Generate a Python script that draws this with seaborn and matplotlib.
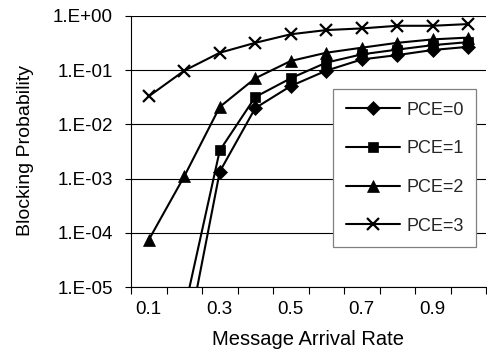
import numpy as np
import pandas as pd
import matplotlib
matplotlib.use("Agg")
import matplotlib.pyplot as plt
import seaborn as sns
from matplotlib.ticker import FixedLocator, FuncFormatter, NullLocator

rates = ["0.1", "0.2", "0.3", "0.4", "0.5", "0.6", "0.7", "0.8", "0.9", "1.0"]
pce0 = [np.nan, 5.8e-7, 1.34e-3, 0.020, 0.051, 0.098, 0.158, 0.19, 0.236, 0.27]
pce1 = [np.nan, 3.6e-6, 3.3e-3, 0.032, 0.071, 0.138, 0.196, 0.24, 0.29, 0.33]
pce2 = [7.4e-5, 1.1e-3, 0.021, 0.071, 0.148, 0.21, 0.26, 0.32, 0.37, 0.40]
pce3 = [0.033, 0.098, 0.21, 0.32, 0.46, 0.55, 0.59, 0.66, 0.66, 0.71]
series_names = ["PCE=0", "PCE=1", "PCE=2", "PCE=3"]
tick_labels = ["0.1", "0.3", "0.5", "0.7", "0.9"]

rows = []
for name, vals in zip(series_names, [pce0, pce1, pce2, pce3]):
    for i, v in enumerate(vals):
        rows.append({"idx": i, "rate": rates[i], "value": v, "series": name})
df = pd.DataFrame(rows).dropna()

sns.set_theme(style="white")
plt.rcParams["font.family"] = ["Liberation Sans", "DejaVu Sans"]

W, H = 487, 358
fig = plt.figure(figsize=(W / 100, H / 100), dpi=100)
ax = fig.add_axes([131 / W, 1 - 287 / H, (486 - 131) / W, (287 - 16) / H])

markers = {"PCE=0": "D", "PCE=1": "s", "PCE=2": "^", "PCE=3": "x"}
sizes = {"PCE=0": 7, "PCE=1": 7.5, "PCE=2": 9, "PCE=3": 9}
for name in series_names:
    sub = df[df["series"] == name]
    sns.lineplot(data=sub, x="idx", y="value", ax=ax, color="black",
                 marker=markers[name], markersize=sizes[name],
                 markeredgewidth=1.6 if name == "PCE=3" else 0.5,
                 markeredgecolor="black", linewidth=1.5, label=name)

ax.set_yscale("log")
ax.set_ylim(1e-5, 1)
ax.set_xlim(-0.5, 9.5)

ax.yaxis.set_major_locator(FixedLocator([1e-5, 1e-4, 1e-3, 1e-2, 1e-1, 1]))
ax.yaxis.set_minor_locator(NullLocator())
ax.yaxis.set_major_formatter(FuncFormatter(lambda v, p: "1.E%+03d" % int(round(np.log10(v)))))
ax.grid(True, axis="y", color="black", linewidth=0.8)

ax.xaxis.set_major_locator(FixedLocator([0, 2, 4, 6, 8]))
ax.set_xticklabels(tick_labels)
ax.xaxis.set_minor_locator(FixedLocator(np.arange(-0.5, 10, 1.0)))
ax.tick_params(axis="x", which="major", length=0, labelsize=13.5, pad=10, colors="black")
ax.tick_params(axis="x", which="minor", length=5, width=0.8, direction="out", color="black", bottom=True)
ax.tick_params(axis="y", which="major", length=4, width=0.8, direction="out", left=True,
               labelsize=13.5, pad=9, colors="black")

for s in ["top", "right"]:
    ax.spines[s].set_visible(False)
for s in ["left", "bottom"]:
    ax.spines[s].set_color("black")
    ax.spines[s].set_linewidth(0.8)

ax.set_xlabel("Message Arrival Rate", fontsize=14.5, color="black", labelpad=9)
ax.set_ylabel("Blocking Probability", fontsize=14, color="black")
ax.yaxis.set_label_coords(34 / W, 1 - 151 / H, transform=fig.transFigure)

leg = ax.legend(loc="upper left", bbox_to_anchor=(333 / W, 1 - 89 / H),
                bbox_transform=fig.transFigure, borderaxespad=0,
                frameon=True, fancybox=False, fontsize=13, handlelength=3.0,
                labelspacing=1.2, borderpad=0.7, handletextpad=0.35)
leg.get_frame().set_edgecolor("#808080")
leg.get_frame().set_linewidth(0.9)
leg.get_frame().set_alpha(1)

fig.savefig("out.png", dpi=100)
